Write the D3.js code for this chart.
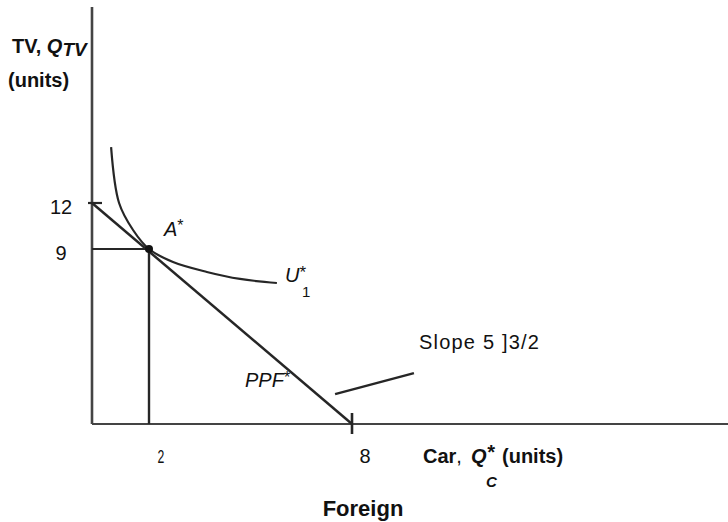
<!DOCTYPE html>
<html><head><meta charset="utf-8">
<script src="https://cdn.jsdelivr.net/npm/d3@7/dist/d3.min.js"></script>
<style>
body{margin:0;background:#fff;}
text{font-family:"Liberation Sans",Arial,sans-serif;fill:#111;}
</style></head>
<body><svg id="c" width="728" height="522"></svg>
<script>
// ---- data ----
const ppf = [{x:0,y:12},{x:8,y:0}];               // PPF*: slope -3/2
const pointA = {x:2,y:9};                          // A*
const indifference = [                             // U*1
  {x:0.67,y:15.65},{x:0.95,y:12.0},{x:1.44,y:10.24},{x:2,y:9},
  {x:2.71,y:8.33},{x:3.71,y:7.82},{x:4.69,y:7.46},{x:5.78,y:7.25}
];
const slopePointer = [{x:7.5,y:1.54},{x:9.83,y:2.62}];
const xTicks = [{v:2,label:"2"},{v:8,label:"8"}];
const yTicks = [{v:9,label:"9"},{v:12,label:"12"}];

// ---- scales (schematic, piecewise) ----
const x = d3.scaleLinear().domain([0,2,8,19.11]).range([92,149,352,728]);
const y = d3.scaleLinear().domain([0,9,12,24.8]).range([424,249,203,7]);

const svg = d3.select("#c");
const ink = "#262626";

// axes
svg.append("line").attr("x1",x(0)).attr("x2",x(19.11)).attr("y1",y(0)).attr("y2",y(0))
  .attr("stroke","#444").attr("stroke-width",2.2);
svg.append("line").attr("x1",x(0)).attr("x2",x(0)).attr("y1",y(0)).attr("y2",y(24.8))
  .attr("stroke","#444").attr("stroke-width",2.6);

// tick marks at PPF intercepts
svg.append("line").attr("x1",x(0)-4).attr("x2",x(0)+10).attr("y1",y(12)).attr("y2",y(12))
  .attr("stroke",ink).attr("stroke-width",2.2);
svg.append("line").attr("x1",x(8)).attr("x2",x(8)).attr("y1",y(0)-11).attr("y2",y(0)+10)
  .attr("stroke",ink).attr("stroke-width",2.6);

// guide lines to A*
svg.append("line").attr("x1",x(0)).attr("x2",x(pointA.x)).attr("y1",y(pointA.y)).attr("y2",y(pointA.y))
  .attr("stroke",ink).attr("stroke-width",2.2);
svg.append("line").attr("x1",x(pointA.x)).attr("x2",x(pointA.x)).attr("y1",y(pointA.y)).attr("y2",y(0))
  .attr("stroke",ink).attr("stroke-width",2.4);

svg.append("path").datum(ppf).attr("d",d3.line().x(d=>x(d.x)).y(d=>y(d.y)))
  .attr("fill","none").attr("stroke",ink).attr("stroke-width",2.5);
svg.append("path").datum(indifference)
  .attr("d",d3.line().x(d=>x(d.x)).y(d=>y(d.y)).curve(d3.curveCatmullRom.alpha(0.5)))
  .attr("fill","none").attr("stroke",ink).attr("stroke-width",2.2);
svg.append("path").datum(slopePointer).attr("d",d3.line().x(d=>x(d.x)).y(d=>y(d.y)))
  .attr("fill","none").attr("stroke",ink).attr("stroke-width",2.4);

svg.append("circle").attr("cx",x(pointA.x)).attr("cy",y(pointA.y)).attr("r",4).attr("fill","#111");

// tick labels
svg.selectAll(".yt").data(yTicks).enter().append("text")
  .attr("x",61).attr("y",d=>y(d.v)+11).attr("text-anchor","middle")
  .attr("font-size",20).text(d=>d.label);
svg.append("text").attr("text-anchor","middle").attr("font-size",18)
  .attr("transform",`translate(${x(2)+12},463) scale(0.68,1)`).text(xTicks[0].label);
svg.append("text").attr("x",x(8)+13).attr("y",463).attr("text-anchor","middle")
  .attr("font-size",20).text(xTicks[1].label);

// y-axis title
const t1 = svg.append("text").attr("x",12).attr("y",53).attr("font-size",20).attr("font-weight","bold");
t1.append("tspan").text("TV, ");
t1.append("tspan").attr("font-style","italic").text("Q");
t1.append("tspan").attr("font-style","italic").attr("dy",3).attr("font-size",19).text("TV");
svg.append("text").attr("x",8).attr("y",87).attr("font-size",20).attr("font-weight","bold").text("(units)");

// x-axis title
const t2 = svg.append("text").attr("y",463).attr("font-size",20).attr("font-weight","bold");
t2.append("tspan").attr("x",423).text("Car");
t2.append("tspan").attr("font-weight","normal").text(",");
t2.append("tspan").attr("x",471).attr("font-style","italic").text("Q");
t2.append("tspan").attr("font-style","italic").attr("dy",-4).text("*");
t2.append("tspan").attr("x",502).attr("dy",4).text("(units)");
svg.append("text").attr("x",486).attr("y",487).attr("font-size",15).attr("font-weight","bold")
  .attr("font-style","italic").text("C");

// annotations
const a = svg.append("text").attr("x",164).attr("y",236).attr("font-size",20).attr("font-style","italic");
a.append("tspan").text("A");
a.append("tspan").attr("dy",-5).attr("font-size",16).attr("font-style","normal").text("*");

const u = svg.append("text").attr("x",285).attr("y",282).attr("font-size",20).attr("font-style","italic");
u.append("tspan").text("U");
u.append("tspan").attr("dy",-4).attr("font-size",17).attr("font-style","normal").text("*");
svg.append("text").attr("x",302).attr("y",297).attr("font-size",15).text("1");

const p = svg.append("text").attr("x",245).attr("y",387).attr("font-size",20).attr("font-style","italic");
p.append("tspan").text("PPF");
p.append("tspan").attr("dy",-4).attr("font-size",16).attr("font-style","normal").text("*");

svg.append("text").attr("x",419).attr("y",349).attr("font-size",20).attr("letter-spacing",1.2)
  .text("Slope 5 ]3/2");

svg.append("text").attr("x",363).attr("y",516).attr("text-anchor","middle").attr("font-size",22)
  .attr("font-weight","bold").text("Foreign");
</script></body></html>
